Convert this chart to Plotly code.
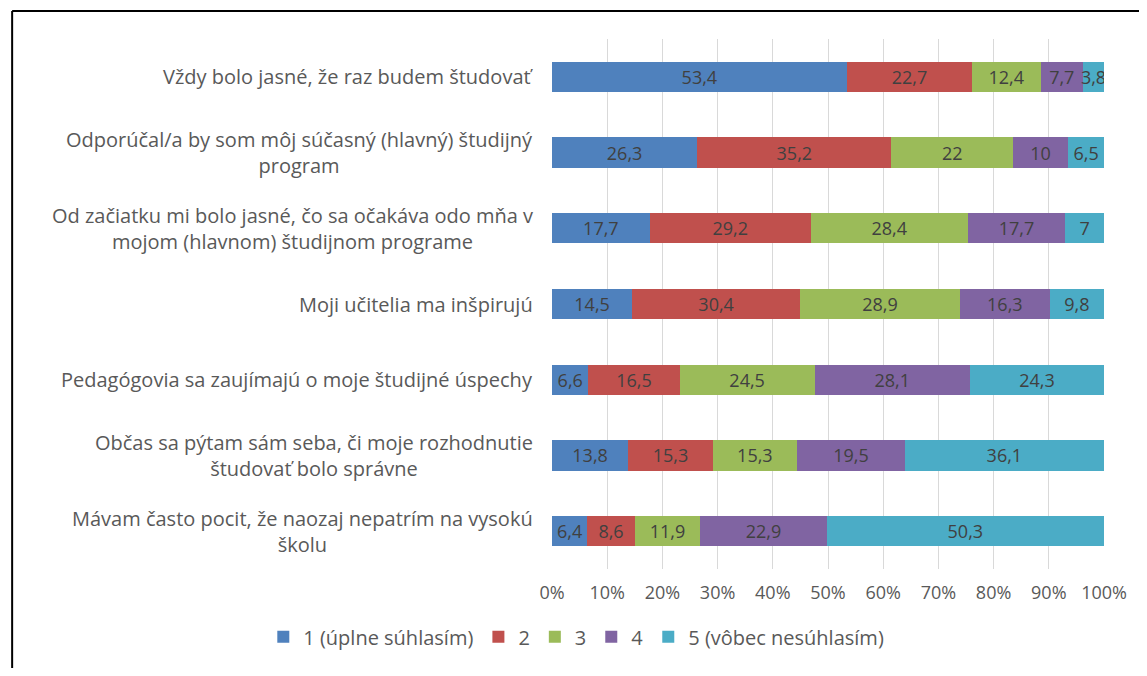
import plotly.graph_objects as go

categories = [
    "Vždy bolo jasné, že raz budem študovať",
    "Odporúčal/a by som môj súčasný (hlavný) študijný<br>program",
    "Od začiatku mi bolo jasné, čo sa očakáva odo mňa v<br>mojom (hlavnom) študijnom programe",
    "Moji učitelia ma inšpirujú",
    "Pedagógovia sa zaujímajú o moje študijné úspechy",
    "Občas sa pýtam sám seba, či moje rozhodnutie<br>študovať bolo správne",
    "Mávam často pocit, že naozaj nepatrím na vysokú<br>školu",
]
series_names = ["1 (úplne súhlasím)", "2", "3", "4", "5 (vôbec nesúhlasím)"]
s1 = [53.4, 26.3, 17.7, 14.5, 6.6, 13.8, 6.4]
s2 = [22.7, 35.2, 29.2, 30.4, 16.5, 15.3, 8.6]
s3 = [12.4, 22.0, 28.4, 28.9, 24.5, 15.3, 11.9]
s4 = [7.7, 10.0, 17.7, 16.3, 28.1, 19.5, 22.9]
s5 = [3.8, 6.5, 7.0, 9.8, 24.3, 36.1, 50.3]
series_values = [s1, s2, s3, s4, s5]
colors = ["#4F81BD", "#C0504D", "#9BBB59", "#8064A2", "#4BACC6"]
tick_vals = [0, 10, 20, 30, 40, 50, 60, 70, 80, 90, 100]
tick_text = [f"{v}%" for v in tick_vals]

FONT = "Open Sans"

def fmt(v):
    s = f"{v:g}"
    return s.replace(".", ",")

fig = go.Figure()
for name, vals, col in zip(series_names, series_values, colors):
    fig.add_trace(go.Bar(
        y=categories, x=vals, name=name, orientation="h",
        marker=dict(color=col, line=dict(width=0)),
        text=[fmt(v) for v in vals],
        textposition="inside", insidetextanchor="middle",
        constraintext="none", textangle=0,
        textfont=dict(family=FONT, size=18, color="#404040"),
        width=0.4,
    ))

for c in categories:
    fig.add_annotation(
        x=-0.03, xref="paper", y=c, yref="y",
        text=c, showarrow=False, xanchor="right", yanchor="middle",
        align="center", font=dict(family=FONT, size=20, color="#595959"),
    )

# outer frame (left and top edges)
fig.add_shape(type="line", xref="paper", yref="paper",
              x0=-0.978, x1=1.2, y0=1.0528, y1=1.0528,
              line=dict(color="black", width=2))
fig.add_shape(type="line", xref="paper", yref="paper",
              x0=-0.978, x1=-0.978, y0=1.0528, y1=-0.3,
              line=dict(color="black", width=2))

fig.update_layout(
    width=1131, height=660,
    margin=dict(l=544, r=33, t=31, b=99),
    barmode="stack", barnorm="percent",
    paper_bgcolor="white", plot_bgcolor="white",
    font=dict(family=FONT, size=18, color="#595959"),
    xaxis=dict(range=[0, 100], tickvals=tick_vals, ticktext=tick_text,
               showgrid=True, gridcolor="#D9D9D9", gridwidth=1,
               zeroline=False, showline=False, ticks="",
               ticklabelstandoff=11,
               tickfont=dict(family=FONT, size=18, color="#595959")),
    yaxis=dict(autorange="reversed", showticklabels=False, ticks="",
               showgrid=False, zeroline=False, showline=False),
    legend=dict(orientation="h",
                x=-0.523, xanchor="left", y=-0.128, yanchor="middle",
                font=dict(family=FONT, size=20, color="#595959"),
                traceorder="normal"),
    showlegend=True,
)

fig.write_html("out.html")
